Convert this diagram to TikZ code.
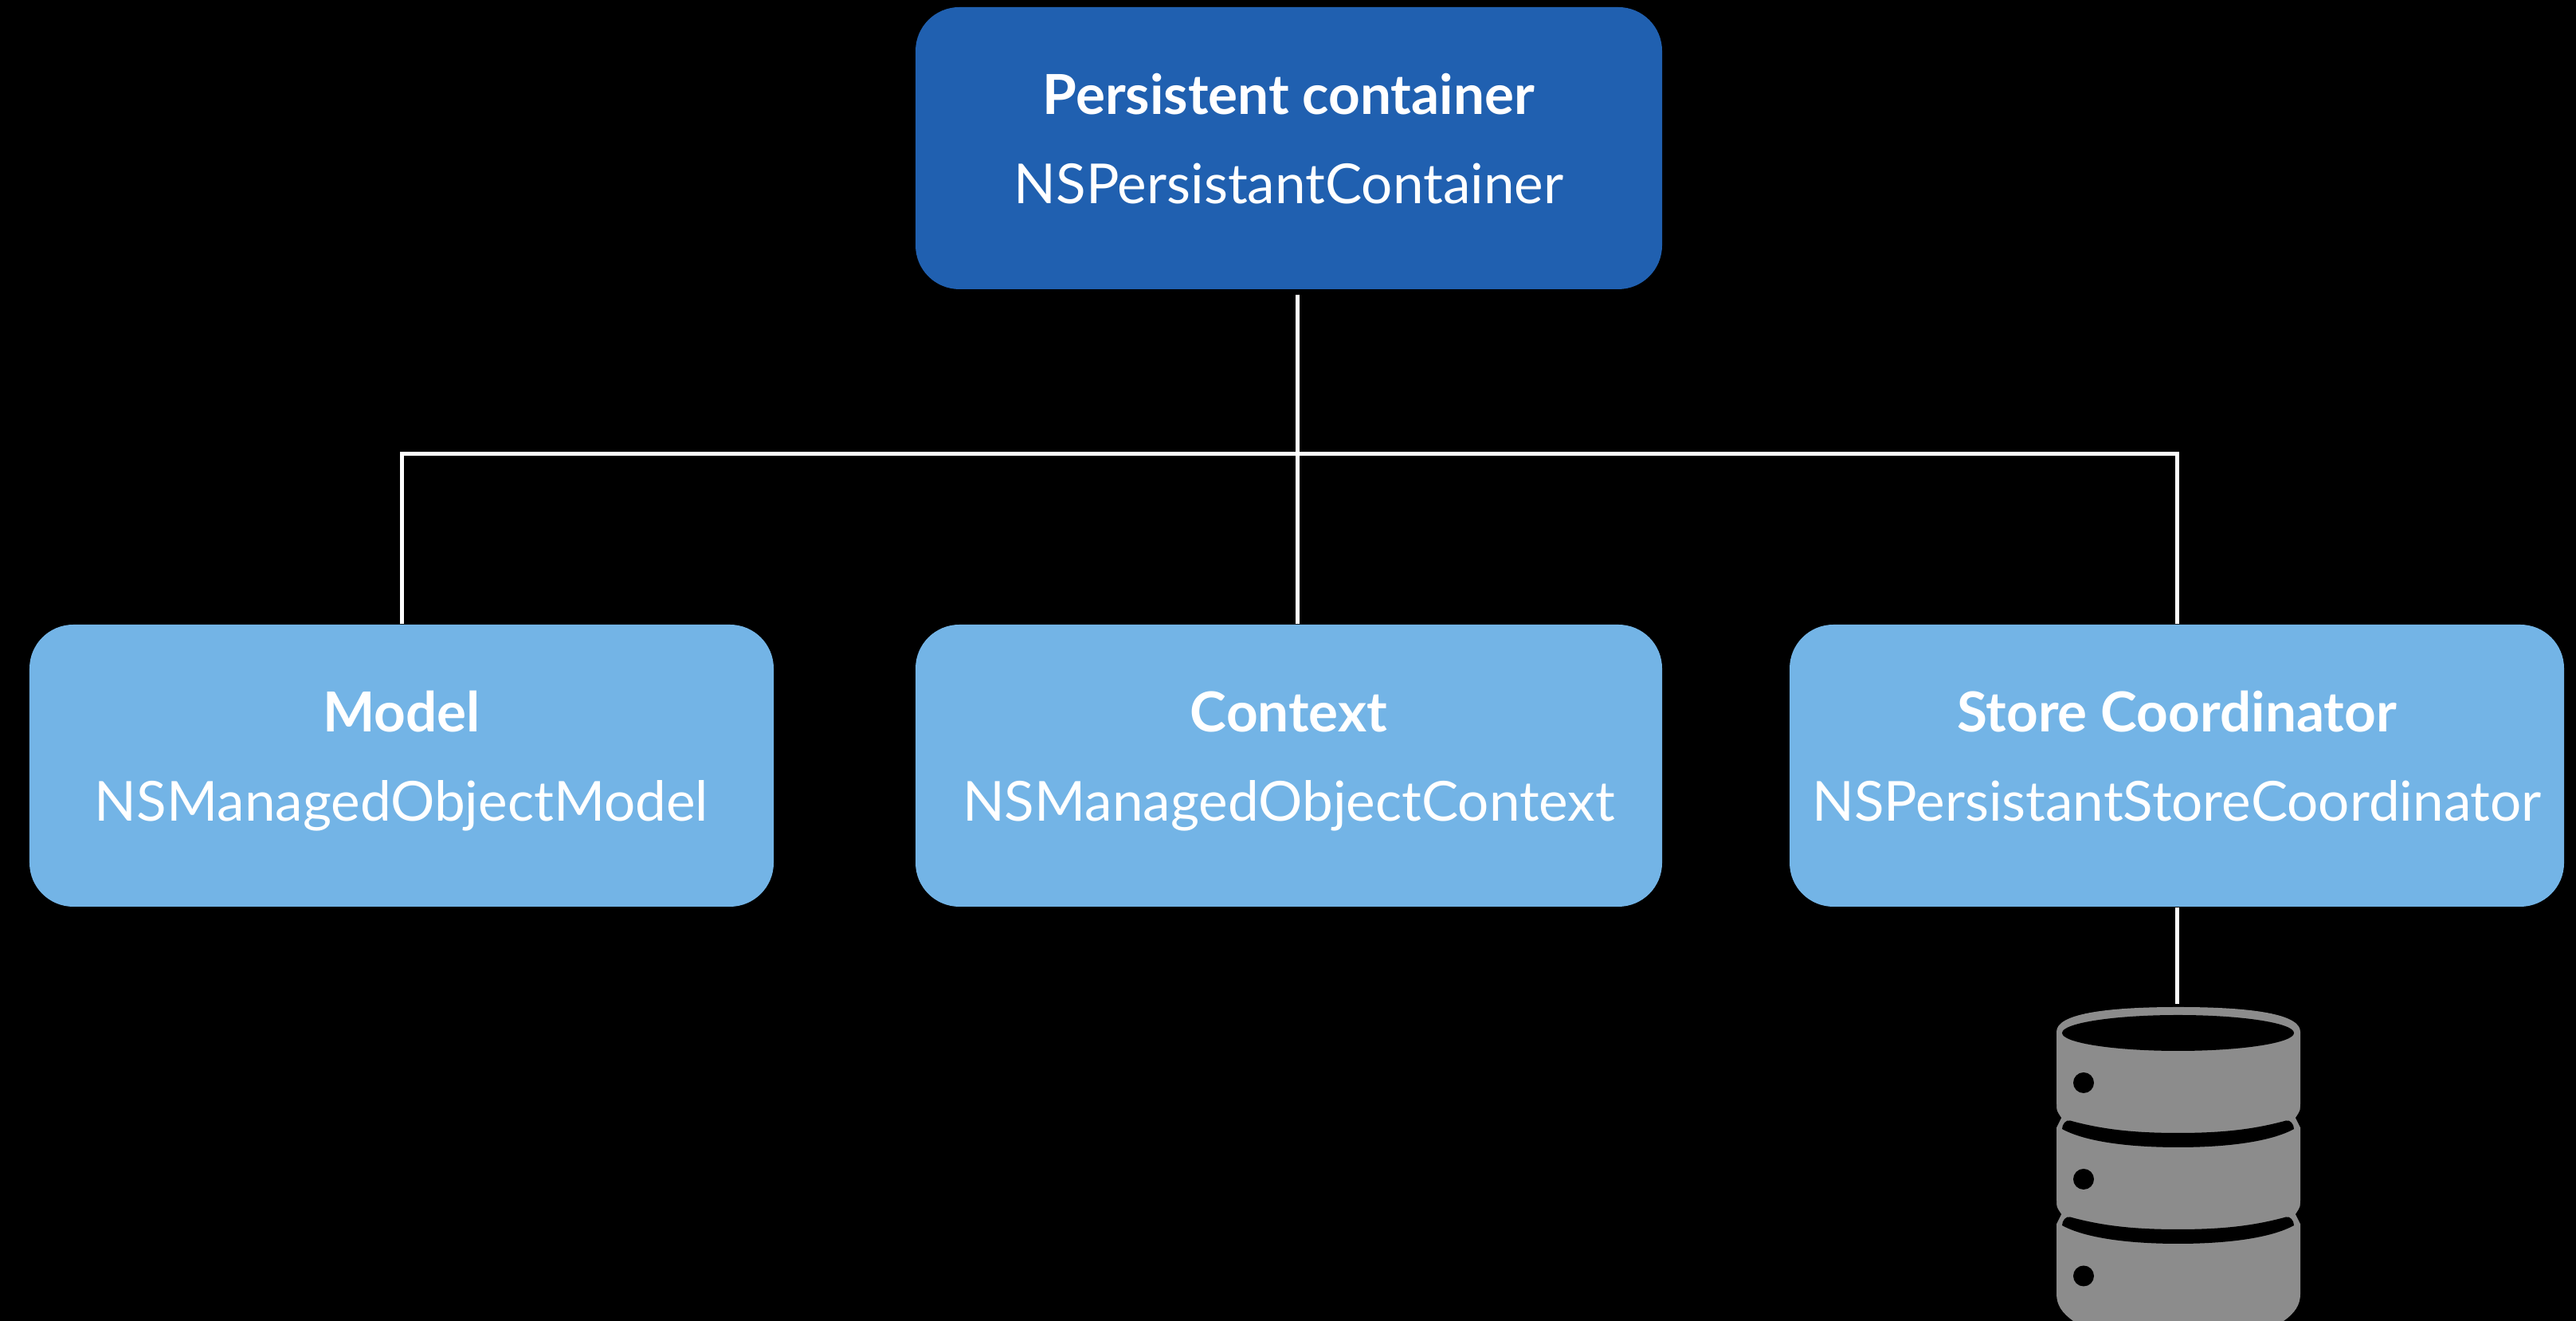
\documentclass[tikz,border=0pt]{standalone}
\usepackage{fontspec}
\setmainfont{Lato}
\usetikzlibrary{calc}
\usetikzlibrary{positioning}
\definecolor{darkbox}{HTML}{2060B0}
\definecolor{lightbox}{HTML}{73B4E6}
\definecolor{dbgray}{HTML}{8C8C8C}
\newcommand{\boxtext}[2]{\textbf{#1}\\#2\rule[-0.24cm]{0pt}{0pt}}

\begin{document}
\begin{tikzpicture}[box/.style={rectangle, rounded corners=0.55cm, text=white, align=center,
            font=\fontsize{19.7}{32}\selectfont, minimum height=3.54cm, inner sep=0pt},
        link/.style={draw=white, line width=0.05cm}]
            \fill[black] (0, 0) rectangle (32.33, 16.58);

            \node[box, fill=darkbox, minimum width=9.37cm] (container) at (16.175, 14.72)
                {\boxtext{Persistent container}{NSPersistantContainer}};
            \node[box, fill=lightbox, minimum width=9.34cm] (model) at (5.04, 6.97)
                {\boxtext{Model}{NSManagedObjectModel}};
            \node[box, fill=lightbox, minimum width=9.37cm] (context) at (16.175, 6.97)
                {\boxtext{Context}{NSManagedObjectContext}};
            \node[box, fill=lightbox, minimum width=9.72cm] (store) at (27.32, 6.97)
                {\boxtext{Store Coordinator}{NSPersistantStoreCoordinator}};

            \coordinate (bus) at (16.28, 10.88);
            \coordinate (dbtop) at (27.32, 3.98);

            % connectors
            \draw[link] ($(container.south -| bus) - (0, 0.06)$) -- (context.north -| bus);
            \draw[link] (model.north) -- (model.north |- bus) -- (store.north |- bus) -- (store.north);
            \draw[link] (store.south) -- (dbtop);

            % database
            \fill[dbgray] (26.02, 0) .. controls (25.88, 0.1) and (25.81, 0.2) .. (25.81, 0.34)
                -- (25.81, 3.63)
                .. controls (25.81, 3.85) and (26.4, 3.94) .. (27.34, 3.94)
                .. controls (28.28, 3.94) and (28.87, 3.85) .. (28.87, 3.63)
                -- (28.87, 0.34) .. controls (28.87, 0.2) and (28.8, 0.1) .. (28.66, 0) -- cycle;
            \fill[black] (27.335, 3.615) ellipse (1.455 and 0.225);
            \foreach \i in {0, 1}
            {
                \begin{scope}[yshift=-\i*1.21cm]
                    \fill[black] (25.88, 2.41) .. controls (25.88, 2.47) and (25.93, 2.53) .. (25.98, 2.515)
                        .. controls (26.4, 2.4) and (26.8, 2.36) .. (27.335, 2.36)
                        .. controls (27.87, 2.36) and (28.27, 2.4) .. (28.69, 2.515)
                        .. controls (28.74, 2.53) and (28.79, 2.47) .. (28.79, 2.41)
                        .. controls (28.5, 2.25) and (27.95, 2.18) .. (27.335, 2.18)
                        .. controls (26.72, 2.18) and (26.17, 2.25) .. (25.88, 2.41) -- cycle;
                    \fill[black] (25.8, 2.72) -- (25.81, 2.72) .. controls (25.81, 2.64) .. (25.87, 2.55)
                        -- (25.81, 2.43) -- (25.8, 2.43) -- cycle;
                    \fill[black] (28.88, 2.72) -- (28.87, 2.72) .. controls (28.87, 2.64) .. (28.81, 2.55)
                        -- (28.87, 2.43) -- (28.88, 2.43) -- cycle;
                \end{scope}
            }
            \foreach \y in {2.99, 1.78, 0.565}
            {
                \fill[black] (26.15, \y) circle (0.13);
            }
        \end{tikzpicture}
\end{document}
